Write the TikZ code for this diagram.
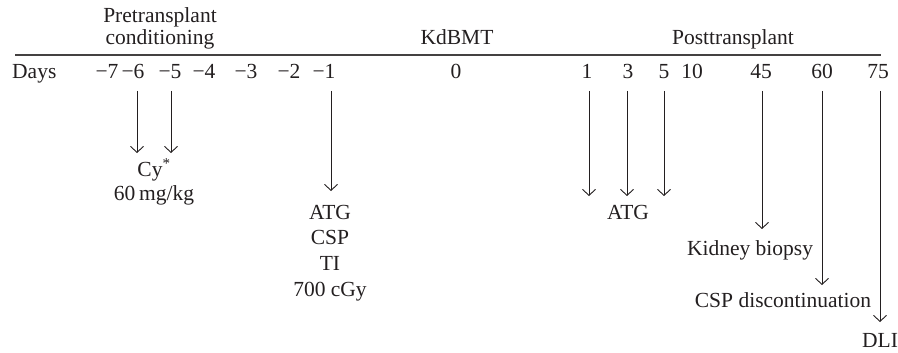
\documentclass[tikz,border=0pt]{standalone}
\usepackage{fontspec}
\setmainfont{Liberation Serif}
\usetikzlibrary{arrows.meta}
\definecolor{ink}{HTML}{231F20}
\begin{document}
\begin{tikzpicture}[x=1pt,y=-1pt,
  txt/.style={anchor=base,inner sep=0pt,text=ink,font=\fontsize{21.5}{26}\selectfont},
  arr/.style={draw=ink,line width=0.9pt,-{Straight Barb[length=6pt,width=13pt,line width=0.9pt]}},
  axis/.style={draw=ink!85,line width=1.4pt}]
\useasboundingbox (0,0) rectangle (898,353);
% headers
\node[txt] (pre1) at (160,23) {Pretransplant};
\node[txt] (pre2) at (160,45) {conditioning};
\node[txt] (kd) at (457,45) {KdBMT};
\node[txt] (post) at (733,45) {Posttransplant};
\coordinate (la) at (15,55);
\coordinate (lb) at (881,55);
\draw[axis] (la) -- (lb);
% days row
\node[txt,anchor=base west] (days) at (12,79) {Days};
\node[txt] (m7) at (107,79) {−7};
\node[txt] (m6) at (133,79) {−6};
\node[txt] (m5) at (170,79) {−5};
\node[txt] (m4) at (204,79) {−4};
\node[txt] (m3) at (246,79) {−3};
\node[txt] (m2) at (289,79) {−2};
\node[txt] (m1) at (324,79) {−1};
\node[txt] (d0) at (456,79) {0};
\node[txt] (d1) at (587,79) {1};
\node[txt] (d3) at (628,79) {3};
\node[txt] (d5) at (664,79) {5};
\node[txt] (d10) at (692,79) {10};
\node[txt] (d45) at (761,79) {45};
\node[txt] (d60) at (822,79) {60};
\node[txt] (d75) at (878,79) {75};
% arrow start points
\foreach \n/\x in {s6/137,s5/171,s1/331,p1/589,p3/627,p5/664,p45/762,p60/822,p75/880}
  \coordinate (\n) at (\x,91);
% arrow end points
\coordinate (e6) at (137,153);
\coordinate (e5) at (171,153);
\coordinate (e1) at (331,191);
\coordinate (q1) at (589,196);
\coordinate (q3) at (627,196);
\coordinate (q5) at (664,196);
\coordinate (q45) at (762,229);
\coordinate (q60) at (822,285);
\coordinate (q75) at (880,322);
\foreach \a/\b in {s6/e6,s5/e5,s1/e1,p1/q1,p3/q3,p5/q5,p45/q45,p60/q60,p75/q75}
  \draw[arr] (\a) -- (\b);
% labels
\node[txt] (cy) at (154,176) {Cy\textsuperscript{*}};
\node[txt] (cyd) at (154,200) {60\,mg/kg};
\node[txt] (atg1) at (330,219) {ATG};
\node[txt] (csp1) at (330,244) {CSP};
\node[txt] (ti) at (330,270) {TI};
\node[txt] (gy) at (330,296) {700 cGy};
\node[txt] (atg2) at (628,219) {ATG};
\node[txt] (kb) at (750,255) {Kidney biopsy};
\node[txt] (cspd) at (783,307) {CSP discontinuation};
\node[txt] (dli) at (880,347) {DLI};
\end{tikzpicture}
\end{document}
